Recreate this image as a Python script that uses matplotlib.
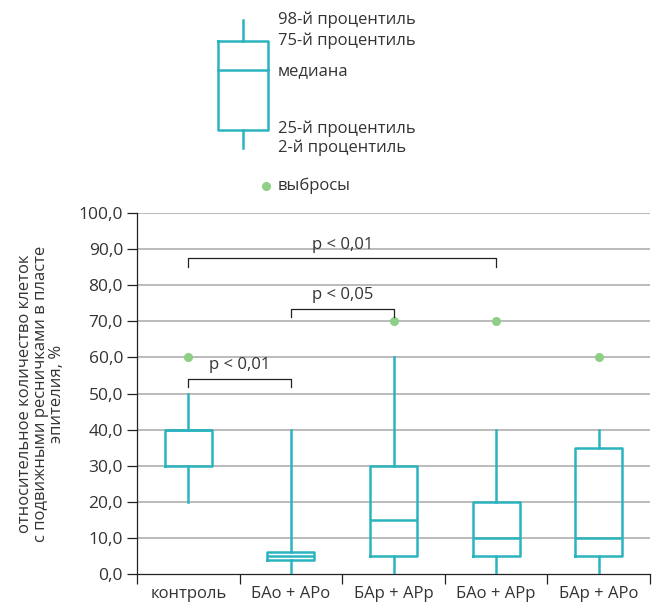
import matplotlib
matplotlib.use('Agg')
import matplotlib.pyplot as plt
import numpy as np
from matplotlib.ticker import FuncFormatter
from matplotlib.patches import Arc

plt.rcParams['font.family'] = ['Open Sans', 'DejaVu Sans']

# данные
groups = ['контроль', 'БАо + АРо', 'БАр + АРр', 'БАо + АРр', 'БАр + АРо']
whis_lo = [20, 0, 0, 0, 0]
q1 = [30, 3.8, 5, 5, 5]
med = [40, 5, 15, 10, 10]
q3 = [40, 6.2, 30, 20, 35]
whis_hi = [50, 40, 60, 40, 40]
outliers = [[60], [], [70], [70], [60]]

# сравнения: группа 1, группа 2, высота скобки, подпись
comp_a = [0, 1, 0]
comp_b = [1, 2, 3]
comp_h = [54, 73.5, 87.4]
comp_lbl = ['p < 0,01', 'p < 0,05', 'p < 0,01']

teal = '#2bb3be'
green = '#8dcf85'
txt = '#333333'
fs = 12

fig = plt.figure(figsize=(6.58, 6.05), dpi=100)
ax = fig.add_axes([137 / 658, 1 - 574 / 605, (650 - 137) / 658, (574 - 213) / 605])

pos = np.arange(len(groups)) + 0.5
stats = []
for i in range(len(groups)):
    stats.append(dict(whislo=whis_lo[i], q1=q1[i], med=med[i], q3=q3[i],
                      whishi=whis_hi[i], fliers=outliers[i]))
lw = 1.8
ax.bxp(stats, positions=pos, widths=0.46, showcaps=False, patch_artist=False,
       boxprops=dict(color=teal, linewidth=lw),
       medianprops=dict(color=teal, linewidth=lw),
       whiskerprops=dict(color=teal, linewidth=lw),
       flierprops=dict(marker='o', markerfacecolor=green, markeredgecolor=green,
                       markersize=5.5),
       manage_ticks=False, zorder=3)

# скобки значимости
for a, b, h, s in zip(comp_a, comp_b, comp_h, comp_lbl):
    xa, xb = pos[a], pos[b]
    ax.plot([xa, xa, xb, xb], [h - 2.3, h, h, h - 2.3], color='#222222', lw=0.9, zorder=4)
    ax.text((xa + xb) / 2, h + 1.6, s, ha='center', va='bottom', fontsize=fs, color=txt)

ax.set_xlim(0, 5)
ax.set_ylim(0, 100)
ax.set_yticks(np.arange(0, 101, 10))
ax.yaxis.set_major_formatter(FuncFormatter(lambda v, p: ('%.1f' % v).replace('.', ',')))
for v in range(10, 101, 10):
    ax.axhline(v, color='#b5b5b5', lw=1.3, zorder=1)

ax.set_xticks(np.arange(0, 6))
ax.set_xticklabels([])
ax.set_xticks(pos, minor=True)
ax.set_xticklabels(groups, minor=True)
ax.tick_params(axis='x', which='major', length=7, width=0.9, color='#222222')
ax.tick_params(axis='x', which='minor', length=0, pad=9, labelsize=fs, labelcolor=txt)
ax.tick_params(axis='y', length=7, width=0.9, color='#222222', labelsize=12.5, labelcolor=txt, pad=3)

for s in ['top', 'right']:
    ax.spines[s].set_visible(False)
for s in ['left', 'bottom']:
    ax.spines[s].set_color('#222222')
    ax.spines[s].set_linewidth(0.9)

ax.set_ylabel('относительное количество клеток\nс подвижными ресничками в пласте\nэпителия, %',
              fontsize=fs, color=txt, linespacing=1.0, labelpad=10, multialignment='center')

# легенда (в пикселях рисунка)
lg = fig.add_axes([0, 0, 1, 1])
lg.set_xlim(0, 658)
lg.set_ylim(605, 0)
lg.axis('off')
lg.plot([243, 243], [20, 41], color=teal, lw=lw)
lg.plot([243, 243], [130, 148], color=teal, lw=lw)
lg.plot([218, 268, 268, 218, 218], [41, 41, 130, 130, 41], color=teal, lw=lw)
lg.plot([218, 268], [70, 70], color=teal, lw=lw)
leg_text = ['98-й процентиль', '75-й процентиль', 'медиана', '25-й процентиль', '2-й процентиль']
leg_y = [20, 41, 71, 129, 148]
for s, y in zip(leg_text, leg_y):
    lg.text(278, y, s, ha='left', va='center', fontsize=fs, color=txt)
lg.plot([266], [186], 'o', color=green, markersize=5.5)
lg.text(278, 186, 'выбросы', ha='left', va='center', fontsize=fs, color=txt)
lg.add_patch(Arc((12, -4), 16, 16, theta1=180, theta2=360, color=teal, lw=2.2))

fig.savefig('out.png', dpi=100)
